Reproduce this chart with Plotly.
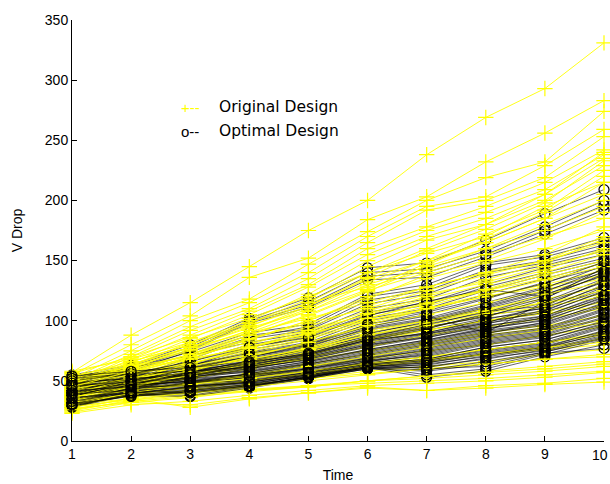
import plotly.graph_objects as go

time = [1, 2, 3, 4, 5, 6, 7, 8, 9, 10]

original = [
    [57, 88, 115, 145, 175, 200, 238, 269, 293, 331],
    [55, 80, 104, 136, 152, 184, 203, 232, 256, 283],
    [52, 75, 100, 118, 147, 174, 200, 219, 232, 274],
    [50, 72, 95, 115, 140, 170, 195, 203, 229, 259],
    [48, 70, 92, 110, 135, 165, 192, 200, 219, 253],
    [47, 68, 88, 108, 130, 160, 178, 195, 215, 242],
    [45, 65, 85, 105, 128, 155, 175, 190, 209, 238],
    [44, 63, 82, 100, 122, 150, 170, 185, 205, 235],
    [46, 66, 80, 98, 118, 145, 167, 180, 200, 229],
    [43, 60, 78, 95, 115, 140, 156, 170, 195, 215],
    [42, 62, 75, 92, 112, 135, 150, 165, 185, 205],
    [40, 58, 72, 90, 108, 130, 145, 160, 175, 195],
    [44, 57, 70, 88, 105, 125, 140, 155, 170, 185],
    [38, 55, 68, 85, 100, 120, 135, 148, 160, 175],
    [41, 54, 66, 80, 95, 112, 128, 140, 150, 165],
    [36, 52, 64, 78, 92, 108, 122, 132, 145, 158],
    [45, 55, 65, 75, 88, 102, 115, 125, 138, 150],
    [35, 50, 60, 72, 85, 98, 110, 120, 130, 142],
    [39, 49, 58, 70, 82, 95, 105, 115, 125, 135],
    [33, 46, 56, 66, 78, 90, 100, 110, 118, 128],
    [50, 56, 62, 72, 80, 92, 100, 108, 115, 122],
    [30, 44, 52, 62, 72, 82, 92, 100, 108, 115],
    [37, 45, 52, 60, 70, 78, 88, 95, 102, 110],
    [42, 48, 55, 62, 68, 75, 82, 90, 96, 104],
    [28, 40, 48, 56, 64, 72, 80, 88, 94, 100],
    [34, 42, 48, 55, 62, 68, 75, 80, 88, 95],
    [30, 38, 45, 52, 58, 65, 70, 76, 82, 90],
    [26, 36, 42, 50, 55, 62, 66, 72, 78, 85],
    [40, 44, 48, 54, 58, 64, 68, 72, 76, 80],
    [25, 34, 40, 46, 52, 58, 62, 66, 72, 76],
    [32, 38, 42, 47, 52, 56, 60, 64, 68, 72],
    [24, 32, 36, 42, 46, 50, 54, 58, 62, 66],
    [29, 34, 38, 42, 45, 50, 52, 55, 58, 62],
    [23, 30, 33, 38, 42, 46, 48, 50, 53, 57],
    [35, 37, 40, 43, 46, 48, 50, 52, 55, 58],
    [27, 32, 30, 36, 40, 45, 42, 46, 48, 52],
    [31, 35, 28, 35, 40, 44, 42, 44, 47, 49],
    [48, 60, 72, 85, 98, 110, 125, 138, 150, 170],
    [52, 62, 70, 82, 92, 105, 118, 130, 142, 160],
    [38, 50, 62, 74, 86, 100, 112, 125, 135, 148],
    [54, 64, 78, 90, 102, 115, 128, 140, 155, 178],
    [46, 58, 68, 78, 90, 100, 110, 120, 128, 138],
    [36, 46, 54, 64, 74, 85, 94, 104, 112, 120],
    [58, 68, 82, 98, 115, 128, 142, 160, 180, 200],
    [44, 52, 60, 68, 76, 85, 92, 100, 106, 112],
    [49, 62, 76, 92, 110, 132, 150, 172, 192, 225],
    [53, 66, 80, 96, 112, 136, 158, 176, 198, 233],
    [47, 63, 78, 94, 108, 126, 148, 165, 185, 215],
    [41, 56, 70, 84, 100, 118, 138, 150, 168, 190],
    [56, 70, 86, 102, 120, 140, 160, 180, 205, 240],
    [39, 52, 64, 77, 90, 106, 120, 134, 148, 168],
    [51, 60, 68, 78, 89, 102, 114, 126, 140, 155],
    [34, 45, 55, 65, 76, 88, 98, 108, 122, 132],
    [43, 52, 60, 68, 77, 88, 96, 106, 115, 125],
    [30, 40, 47, 54, 62, 70, 78, 85, 92, 98],
    [37, 42, 47, 52, 58, 64, 70, 76, 82, 88],
    [28, 35, 40, 45, 50, 55, 60, 64, 68, 70],
    [33, 39, 44, 50, 56, 62, 68, 72, 78, 82],
    [26, 33, 37, 41, 45, 50, 54, 57, 60, 64],
    [45, 58, 72, 88, 104, 124, 146, 168, 190, 220],
    [36, 48, 58, 70, 82, 96, 110, 122, 134, 145],
]

optimal = [
    [55, 63, 80, 102, 119, 144, 148, 167, 189, 209],
    [53, 62, 78, 100, 116, 140, 143, 158, 178, 200],
    [52, 60, 76, 99, 113, 137, 140, 155, 175, 196],
    [50, 58, 75, 98, 111, 134, 136, 153, 172, 192],
    [54, 60, 74, 90, 97, 122, 130, 148, 155, 169],
    [40, 52, 70, 86, 95, 120, 127, 146, 153, 166],
    [48, 58, 72, 88, 93, 117, 125, 142, 150, 163],
    [35, 50, 68, 85, 92, 114, 122, 140, 148, 160],
    [52, 61, 71, 82, 90, 110, 118, 136, 146, 158],
    [45, 55, 66, 80, 88, 107, 115, 130, 144, 155],
    [30, 45, 62, 78, 87, 105, 113, 128, 140, 152],
    [50, 57, 64, 76, 84, 102, 110, 125, 138, 150],
    [42, 52, 63, 74, 82, 100, 108, 122, 135, 148],
    [38, 50, 60, 72, 80, 97, 105, 118, 132, 145],
    [53, 58, 62, 70, 78, 94, 102, 115, 128, 142],
    [33, 46, 58, 69, 77, 92, 100, 112, 125, 140],
    [47, 54, 60, 68, 76, 90, 98, 110, 122, 137],
    [44, 52, 57, 66, 74, 88, 96, 108, 112, 134],
    [36, 47, 55, 64, 72, 86, 94, 105, 110, 130],
    [51, 55, 58, 63, 71, 84, 92, 102, 108, 128],
    [29, 42, 54, 62, 70, 82, 90, 100, 106, 125],
    [41, 49, 55, 61, 69, 80, 88, 98, 104, 122],
    [46, 51, 56, 60, 68, 78, 86, 96, 102, 120],
    [31, 43, 52, 58, 66, 76, 84, 94, 100, 118],
    [49, 52, 54, 57, 65, 74, 82, 92, 98, 115],
    [37, 45, 50, 56, 64, 72, 80, 90, 96, 112],
    [43, 48, 51, 55, 62, 70, 78, 88, 94, 110],
    [28, 40, 48, 54, 60, 68, 76, 86, 92, 108],
    [34, 44, 49, 53, 59, 67, 74, 84, 90, 105],
    [39, 46, 50, 52, 58, 66, 72, 82, 88, 102],
    [32, 42, 47, 51, 57, 65, 70, 80, 86, 100],
    [45, 47, 49, 50, 56, 64, 68, 78, 84, 98],
    [30, 40, 45, 49, 55, 63, 67, 76, 82, 96],
    [36, 41, 44, 48, 54, 62, 66, 74, 80, 94],
    [28, 38, 42, 47, 53, 61, 65, 72, 78, 92],
    [41, 42, 40, 46, 53, 60, 64, 70, 77, 90],
    [33, 39, 38, 45, 52, 60, 62, 68, 76, 88],
    [29, 38, 37, 44, 52, 60, 58, 64, 74, 86],
    [35, 40, 43, 47, 55, 62, 55, 60, 72, 84],
    [31, 39, 41, 45, 54, 61, 53, 58, 70, 80],
    [38, 44, 46, 50, 57, 64, 60, 62, 73, 77],
    [42, 50, 60, 70, 80, 95, 104, 90, 116, 135],
    [47, 56, 66, 78, 86, 104, 116, 126, 120, 138],
    [37, 48, 58, 66, 75, 87, 95, 103, 118, 144],
    [44, 53, 61, 70, 79, 93, 101, 113, 127, 146],
    [39, 49, 57, 67, 76, 89, 99, 111, 124, 143],
    [34, 45, 54, 63, 72, 84, 93, 106, 119, 139],
    [50, 56, 63, 73, 81, 97, 107, 119, 131, 149],
    [47, 53, 59, 65, 73, 85, 94, 104, 115, 132],
    [32, 44, 53, 60, 68, 79, 87, 97, 109, 126],
    [43, 50, 56, 62, 70, 81, 89, 99, 107, 124],
    [37, 46, 53, 59, 66, 75, 83, 93, 103, 119],
    [30, 41, 49, 56, 63, 71, 79, 89, 99, 114],
    [52, 56, 58, 61, 67, 76, 84, 93, 101, 117],
    [48, 52, 55, 58, 64, 73, 81, 91, 97, 113],
    [35, 43, 48, 53, 60, 69, 77, 87, 93, 109],
    [41, 46, 50, 54, 61, 69, 75, 85, 91, 106],
    [29, 39, 45, 50, 57, 66, 73, 83, 89, 103],
    [46, 49, 52, 55, 60, 67, 71, 81, 87, 99],
    [33, 40, 44, 49, 56, 64, 68, 78, 84, 97],
    [39, 42, 45, 49, 55, 63, 67, 75, 81, 95],
    [31, 37, 41, 46, 53, 62, 65, 73, 79, 91],
    [42, 45, 46, 48, 54, 62, 63, 71, 78, 89],
    [36, 40, 42, 46, 53, 61, 61, 69, 75, 87],
    [30, 38, 40, 45, 53, 61, 59, 66, 74, 85],
    [45, 51, 57, 64, 71, 83, 90, 101, 111, 129],
    [40, 48, 55, 62, 69, 80, 86, 95, 104, 121],
    [54, 58, 61, 66, 72, 84, 89, 98, 113, 133],
    [38, 47, 56, 65, 73, 86, 97, 107, 121, 141],
]

x_ticks = [1, 2, 3, 4, 5, 6, 7, 8, 9, 10]
y_ticks = [0, 50, 100, 150, 200, 250, 300, 350]

legend_labels = ["Original Design", "Optimal Design"]
legend_symbols = ["+--", "o--"]

fig = go.Figure()

n = max(len(original), len(optimal))
for i in range(n):
    if i < len(original):
        fig.add_trace(go.Scatter(
            x=time, y=original[i], mode="lines+markers",
            line=dict(color="#FFFF00", width=0.9),
            marker=dict(symbol="cross-thin-open", size=11,
                        line=dict(color="#FFFF00", width=1.2)),
            cliponaxis=False, showlegend=False, hoverinfo="skip"))
    if i < len(optimal):
        fig.add_trace(go.Scatter(
            x=time, y=optimal[i], mode="lines+markers",
            line=dict(color="rgba(0,0,0,0.75)", width=0.8),
            marker=dict(symbol="circle-open", size=10,
                        color="black", line=dict(color="black", width=1.2)),
            cliponaxis=False, showlegend=False, hoverinfo="skip"))

font = "Liberation Sans, Arial, Helvetica, sans-serif"
legend_font = "DejaVu Sans, Liberation Sans, sans-serif"

L, R, T, B = 72, 6, 20, 43
W, H = 610, 484
pw, ph = W - L - R, H - T - B

def px(xp):
    return (xp - L) / pw

def py(yp):
    return (H - B - yp) / ph

# last tick label would run past the page edge; draw it right-aligned at the edge
x_ticktext = [str(v) for v in x_ticks[:-1]] + [""]

annots = []
for sym, lab, yp, col in zip(legend_symbols, legend_labels, [107, 131], ["#FFFF00", "black"]):
    annots.append(dict(x=px(179), y=py(yp), xref="paper", yref="paper",
                       text=sym, showarrow=False, xanchor="left", yanchor="middle",
                       font=dict(color=col, size=15, family=font)))
    annots.append(dict(x=px(217), y=py(yp), xref="paper", yref="paper",
                       text=lab, showarrow=False, xanchor="left", yanchor="middle",
                       font=dict(color="black", size=15.5, family=legend_font)))
annots.append(dict(x=px(610), y=py(455), xref="paper", yref="paper",
                   text=str(x_ticks[-1]), showarrow=False, xanchor="right", yanchor="middle",
                   xshift=0, font=dict(color="black", size=14, family=font)))

fig.update_layout(
    width=W, height=H,
    margin=dict(l=L, r=R, t=T, b=B, autoexpand=False),
    paper_bgcolor="white", plot_bgcolor="white",
    font=dict(family=font, size=14, color="black"),
    xaxis=dict(range=[1, 10], tickvals=x_ticks, ticktext=x_ticktext,
               ticks="inside", ticklen=5, tickcolor="black", automargin=False,
               showline=True, linecolor="black", linewidth=1,
               showgrid=False, zeroline=False,
               title=dict(text="Time", font=dict(size=14), standoff=9)),
    yaxis=dict(range=[0, 350], tickvals=y_ticks, ticktext=[str(v) for v in y_ticks],
               ticks="inside", ticklen=5, tickcolor="black", automargin=False,
               ticklabeloverflow="allow",
               showline=True, linecolor="black", linewidth=1,
               showgrid=False, zeroline=False,
               title=dict(text="V Drop", font=dict(size=14), standoff=18)),
    annotations=annots,
)

fig.write_html(
    "out.html",
    config={"displayModeBar": False},
    post_script="document.body.style.margin='0px';document.body.style.overflow='hidden';",
)
